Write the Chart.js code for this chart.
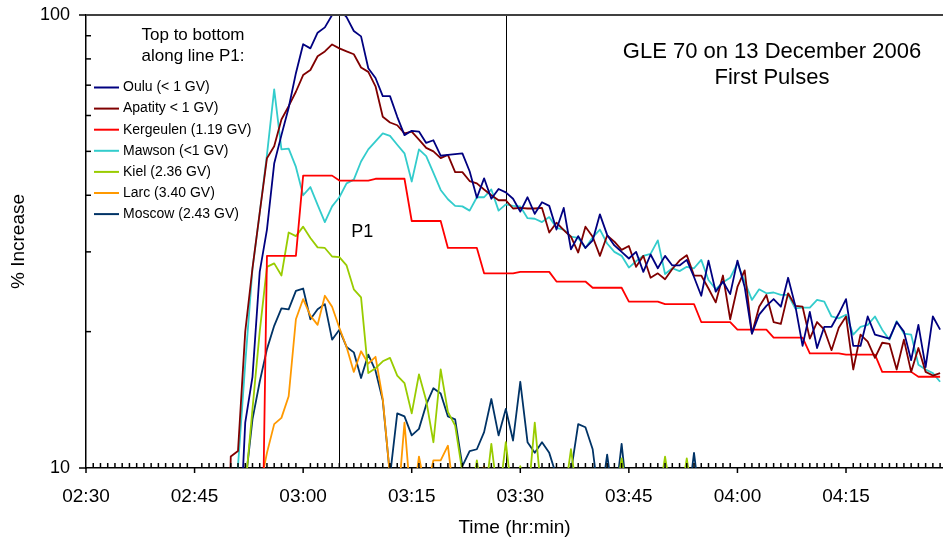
<!DOCTYPE html>
<html>
<head>
<meta charset="utf-8">
<title>GLE 70 on 13 December 2006</title>
<script src="https://cdn.jsdelivr.net/npm/chart.js@4.4.1/dist/chart.umd.min.js"></script>
<style>
  html, body { margin: 0; padding: 0; background: #fff; }
  canvas { display: block; }
</style>
</head>
<body>
<canvas id="chart" width="943" height="546"></canvas>
<script>
"use strict";

// minutes after 02:30 UT, one sample a minute
const MINUTES = [
  19, 20, 21, 22, 23, 24, 25, 26, 27, 28,
  29, 30, 31, 32, 33, 34, 35, 36, 37, 38,
  39, 40, 41, 42, 43, 44, 45, 46, 47, 48,
  49, 50, 51, 52, 53, 54, 55, 56, 57, 58,
  59, 60, 61, 62, 63, 64, 65, 66, 67, 68,
  69, 70, 71, 72, 73, 74, 75, 76, 77, 78,
  79, 80, 81, 82, 83, 84, 85, 86, 87, 88,
  89, 90, 91, 92, 93, 94, 95, 96, 97, 98,
  99, 100, 101, 102, 103, 104, 105, 106, 107, 108,
  109, 110, 111, 112, 113, 114, 115, 116, 117, 118
];

// % increase per station (values under 10 sit below the axis)
const OULU = [
  null, null, 5.8, 12.6, 15.9, 27.1, 33.6, 47.0, 54.3, 62.4,
  74.4, 86.2, 84.4, 91.4, 93.9, 100, 103, 98.9, 92.2, 89.7,
  76.3, 72.6, 66.2, 66.2, 59.6, 54.3, 55.5, 55.3, 52.2, 52.9,
  48.9, 49.1, 49.3, 49.5, 45.2, 39.5, 43.6, 39.3, 41.3, 40.6,
  39.3, 36.8, 39.6, 36.4, 38.6, 37.9, 33.6, 37.5, 30.4, 32.5,
  30.6, 31.8, 36.3, 32.7, 31.0, 30.0, 29.0, 30.0, 27.1, 29.6,
  27.6, 29.4, 28.0, 28.0, 28.8, 26.4, 24.0, 28.7, 24.5, 25.8,
  24.2, 28.7, 25.1, 19.8, 21.8, 22.8, 23.6, 22.7, 26.3, 22.8,
  18.6, 22.1, 18.4, 20.5, 20.5, 21.9, 23.6, 18.6, 18.6, 21.6,
  19.7, 19.5, 19.3, 21.0, 20.0, 17.3, 20.7, 16.7, 21.6, 20.2
];
const APATITY = [
  2, 10.6, 10.9, 20.0, 27.6, 36.6, 48.3, 51.3, 58.8, 62.9,
  67.7, 73.7, 75.6, 81.1, 83.1, 86.1, 84.4, 83.1, 81.9, 76.6,
  74.9, 69.6, 59.6, 57.9, 57.1, 54.8, 55.3, 53.1, 50.9, 50.0,
  48.3, 49.1, 45.0, 45.0, 43.0, 42.5, 41.2, 40.0, 39.0, 39.0,
  37.4, 37.5, 37.4, 37.4, 37.5, 33.1, 34.8, 33.5, 32.4, 29.9,
  34.1, 32.4, 29.4, 32.6, 31.6, 30.3, 30.9, 27.8, 29.4, 26.3,
  26.9, 26.1, 27.5, 28.7, 29.5, 26.6, 26.6, 24.9, 23.2, 26.6,
  21.3, 25.1, 27.3, 19.8, 22.7, 24.1, 21.0, 20.8, 24.3, 22.8,
  22.7, 19.3, 21.0, 20.2, 18.2, 20.4, 21.6, 16.5, 19.7, 19.0,
  17.5, 18.9, 18.8, 16.5, 19.2, 16.3, 18.4, 16.3, 16.0, 16.2
];
const KERGEULEN = [
  null, null, null, null, null, 2.7, 29.4, 29.4, 29.4, 29.4,
  29.4, 44.2, 44.2, 44.2, 44.2, 44.2, 43.1, 43.1, 43.1, 43.1,
  43.1, 43.5, 43.5, 43.5, 43.5, 43.5, 35.1, 35.1, 35.1, 35.1,
  35.1, 30.6, 30.6, 30.6, 30.6, 30.6, 26.9, 26.9, 26.9, 26.9,
  26.9, 27.1, 27.1, 27.1, 27.1, 27.1, 25.8, 25.8, 25.8, 25.8,
  25.8, 25.0, 25.0, 25.0, 25.0, 25.0, 23.3, 23.3, 23.3, 23.3,
  23.3, 23.0, 23.0, 23.0, 23.0, 23.0, 21.0, 21.0, 21.0, 21.0,
  21.0, 20.2, 20.2, 20.2, 20.2, 20.2, 19.4, 19.4, 19.4, 19.4,
  19.4, 17.9, 17.9, 17.9, 17.9, 17.9, 17.8, 17.8, 17.8, 17.8,
  17.8, 16.3, 16.3, 16.3, 16.3, 16.3, 15.9, 15.9, 15.9, 15.9
];
const MAWSON = [
  null, 3, 10.1, 17.0, 27.5, 36.6, 49.1, 68.5, 50.5, 50.7,
  46.2, 40.0, 41.7, 38.1, 34.9, 37.8, 39.6, 42.5, 43.3, 47.5,
  50.5, 52.6, 54.8, 54.1, 51.7, 49.5, 42.9, 50.5, 48.8, 44.8,
  41.1, 39.2, 37.9, 37.8, 37.0, 39.6, 39.6, 41.2, 37.0, 38.2,
  37.9, 37.8, 35.6, 35.5, 34.9, 35.8, 33.9, 33.6, 32.4, 32.2,
  30.6, 32.3, 33.6, 31.3, 30.0, 29.4, 27.7, 28.6, 29.4, 29.7,
  31.8, 26.8, 27.6, 27.2, 27.8, 27.6, 28.8, 26.0, 24.8, 25.7,
  26.3, 28.3, 25.8, 23.5, 24.8, 24.3, 24.4, 24.1, 24.1, 22.5,
  22.6, 22.6, 23.5, 23.3, 21.6, 21.4, 21.8, 19.7, 20.5, 20.7,
  21.6, 20.2, 19.2, 21.1, 19.8, 19.7, 16.9, 16.5, 16.2, 15.5
];
const KIEL = [
  null, null, 5, 9.0, 13.5, 20.0, 27.8, 28.3, 26.6, 33.1,
  32.5, 34.1, 32.2, 30.7, 30.6, 29.3, 29.2, 28.0, 24.8, 23.8,
  16.2, 16.6, 17.2, 17.5, 16.0, 15.4, 13.2, 16.1, 14.1, 11.4,
  16.5, 13.3, 12.4, 9.8, 8.2, 10.4, 8.2, 11.3, 8.4, 11.4,
  8.3, 10.1, 8.3, 12.6, 8.5, 8.0, 7.5, 8.4, 11.0, 8.4,
  7.8, 8.0, 7.6, 8.0, 8.3, 10.5, 8.3, 7.7, 7.9, 7.6,
  8.3, 10.6, 8.4, 8.3, 10.5, 8.2, null, null, null, null,
  null, null, null, null, null, null, null, null, null, null,
  null, null, null, null, null, null, null, null, null, null,
  null, null, null, null, null, null, null, null, null, null
];
const LARC = [
  null, null, null, null, null, 9.0, 10.8, 12.5, 12.9, 14.4,
  21.3, 23.6, 21.7, 20.7, 24.0, 22.7, 20.4, 18.5, 16.3, 18.1,
  17.0, 17.6, 14.2, 9.6, 8.0, 12.6, 8.0, 10.6, 8.8, 10.4,
  10.4, 11.2, 8.2, 7.5, 7.8, 8.3, 10.1, 8.2, null, null,
  null, null, null, null, null, null, null, null, null, null,
  null, null, null, null, null, null, null, null, null, null,
  null, null, null, null, null, null, null, null, null, null,
  null, null, null, null, null, null, null, null, null, null,
  null, null, null, null, null, null, null, null, null, null,
  null, null, null, null, null, null, null, null, null, null
];
const MOSCOW = [
  null, null, 5, 9.2, 12.8, 15.5, 18.3, 20.6, 22.5, 22.4,
  24.6, 24.9, 21.3, 22.4, 23.0, 19.2, 20.2, 18.5, 18.0, 15.8,
  17.8, 16.4, 14.1, 9.6, 13.2, 13.0, 11.8, 12.2, 13.8, 15.0,
  14.6, 13.0, 12.8, 10.1, 10.9, 11.0, 12.0, 14.2, 11.8, 13.5,
  11.5, 15.5, 11.4, 10.8, 11.4, 10.8, 9.6, 8.0, 9.8, 12.5,
  12.3, 11.0, 8.2, 10.7, 8.2, 11.3, 8.0, 7.6, 7.8, 7.5,
  7.7, 7.6, 7.8, 7.5, 8.0, 10.8, 8.0, null, null, null,
  null, null, null, null, null, null, null, null, null, null,
  null, null, null, null, null, null, null, null, null, null,
  null, null, null, null, null, null, null, null, null, null
];

const STATIONS = ["Oulu (< 1 GV)", "Apatity < 1 GV)", "Kergeulen (1.19 GV)", "Mawson (<1 GV)",
                  "Kiel (2.36 GV)", "Larc (3.40 GV)", "Moscow (2.43 GV)"];
const COLORS = ["#000080", "#800000", "#ff0000", "#33cccc", "#99cc00", "#ff9900", "#003366"];
const VALUES = [OULU, APATITY, KERGEULEN, MAWSON, KIEL, LARC, MOSCOW];

const TICK_MINUTES = [0, 15, 30, 45, 60, 75, 90, 105];
const TICK_LABELS = ["02:30", "02:45", "03:00", "03:15", "03:30", "03:45", "04:00", "04:15"];
const Y_TICKS = [10, 100];
const Y_MINOR = [20, 30, 40, 50, 60, 70, 80, 90];
const MARKERS = [35, 58];          // 03:05 (P1) and 03:28
const TITLE = ["GLE 70 on 13 December 2006", "First Pulses"];
const LEGEND_TITLE = ["Top to bottom", "along line P1:"];

const FONT = '"Liberation Sans", Arial, sans-serif';
Chart.defaults.font.family = FONT;
Chart.defaults.color = "#000";

function seg(ctx, x1, y1, x2, y2) {
    ctx.beginPath();
    ctx.moveTo(x1, y1);
    ctx.lineTo(x2, y2);
    ctx.stroke();
}

const decor = {
    id: "decor",
    beforeDatasetsDraw(chart) {
        const { ctx, chartArea: a, scales: { x } } = chart;
        ctx.save();
        ctx.strokeStyle = "#000";
        ctx.lineWidth = 1;
        for (const m of MARKERS) {
            const px = Math.round(x.getPixelForValue(m)) + 0.5;
            seg(ctx, px, a.top, px, a.bottom);
        }
        ctx.restore();
    },
    afterDraw(chart) {
        const { ctx, chartArea: a, scales: { x, y } } = chart;
        ctx.save();

        ctx.strokeStyle = "#404040";
        ctx.lineWidth = 2;
        seg(ctx, a.left, a.top, a.right, a.top);

        ctx.strokeStyle = "#000";
        ctx.lineWidth = 1.5;
        for (let m = 0; m <= x.max; m++) {
            if (m % 15 === 0) { continue; }
            const px = x.getPixelForValue(m);
            seg(ctx, px, a.bottom - 5, px, a.bottom);
        }
        for (const m of TICK_MINUTES) {
            const px = x.getPixelForValue(m);
            seg(ctx, px, a.bottom, px, a.bottom + 5);
        }
        for (const v of Y_MINOR) {
            const py = y.getPixelForValue(v);
            seg(ctx, a.left, py, a.left + 5, py);
        }
        for (const v of Y_TICKS) {
            const py = y.getPixelForValue(v);
            seg(ctx, a.left - 7, py, a.left, py);
        }

        ctx.fillStyle = "#000";
        ctx.textBaseline = "middle";

        // P1 marker label
        ctx.font = "18px " + FONT;
        ctx.textAlign = "left";
        ctx.fillText("P1", x.getPixelForValue(MARKERS[0]) + 12, 232);

        // title, upper right
        ctx.font = "22px " + FONT;
        ctx.textAlign = "center";
        TITLE.forEach((t, i) => ctx.fillText(t, 772, 52 + i * 26));

        // legend
        ctx.font = "17px " + FONT;
        LEGEND_TITLE.forEach((t, i) => ctx.fillText(t, 193, 35 + i * 21.5));
        ctx.font = "14px " + FONT;
        ctx.textAlign = "left";
        chart.data.datasets.forEach((ds, i) => {
            const ly = 87.5 + i * 21.1;
            ctx.strokeStyle = ds.borderColor;
            ctx.lineWidth = 2;
            seg(ctx, a.left + 8, ly, a.left + 33, ly);
            ctx.fillText(ds.label, a.left + 37, ly);
        });
        ctx.restore();
    },
};

new Chart(document.getElementById("chart"), {
    type: "line",
    data: {
        datasets: STATIONS.map((label, i) => ({
            label,
            borderColor: COLORS[i],
            backgroundColor: COLORS[i],
            borderWidth: 1.8,
            borderJoinStyle: "round",
            pointRadius: 0,
            tension: 0,
            data: MINUTES.map((m, k) => ({ x: m, y: VALUES[i][k] })),
        })),
    },
    options: {
        responsive: false,
        animation: false,
        devicePixelRatio: 1,
        layout: { padding: { top: 15, right: 0, bottom: 0, left: 0 } },
        plugins: { legend: { display: false }, tooltip: { enabled: false } },
        scales: {
            x: {
                type: "linear",
                bounds: "data",
                min: 0,
                max: 118.4,
                grid: { display: false, drawTicks: false },
                border: { display: true, color: "#000", width: 1.5 },
                afterBuildTicks: s => { s.ticks = TICK_MINUTES.map(v => ({ value: v })); },
                afterFit: s => { s.height = 78; },
                ticks: {
                    autoSkip: false,
                    maxRotation: 0,
                    padding: 17,
                    font: { size: 19 },
                    callback: (v, i) => TICK_LABELS[i],
                },
                title: { display: true, text: "Time (hr:min)", font: { size: 19 }, padding: { top: 0, bottom: 7 } },
            },
            y: {
                type: "logarithmic",
                min: 10,
                max: 100,
                grid: { display: false, drawTicks: false },
                border: { display: true, color: "#000", width: 1.5 },
                afterBuildTicks: s => { s.ticks = Y_TICKS.map(v => ({ value: v })); },
                afterFit: s => { s.width = 86; s.paddingTop = 0; s.paddingBottom = 0; },
                ticks: { padding: 16, font: { size: 18 }, callback: v => String(v) },
                title: { display: true, text: "% Increase", font: { size: 19 }, padding: { top: 7, bottom: 0 } },
            },
        },
    },
    plugins: [decor],
});
</script>
</body>
</html>
